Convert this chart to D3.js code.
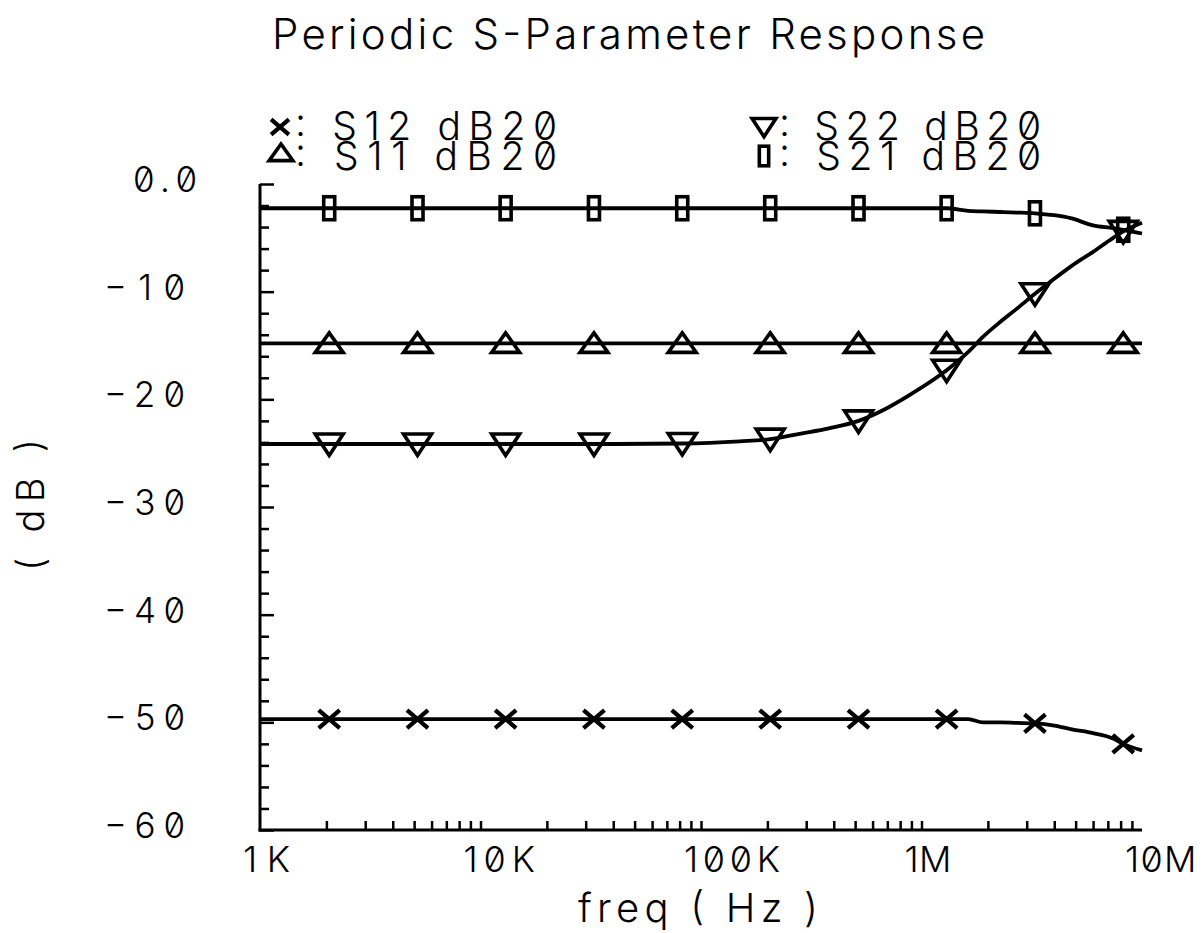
<!DOCTYPE html>
<html>
<head>
<meta charset="utf-8">
<script src="https://cdn.jsdelivr.net/npm/d3@7"></script>
<style>
  html, body { margin: 0; padding: 0; background: #fff; }
  svg text { font-family: "Inter", "DejaVu Sans", sans-serif; font-weight: 300; font-feature-settings: "zero" 1; fill: #000; }
</style>
</head>
<body>
<svg id="chart" width="1204" height="933"></svg>
<script>
// ---------------- data ----------------
const freq = [1e3, 2.06e3, 5.18e3, 1.30e4, 3.27e4, 8.22e4, 1.50e5, 2.06e5, 2.80e5, 3.80e5,
              5.18e5, 7.0e5, 9.5e5, 1.30e6, 1.63e6, 1.90e6, 2.28e6, 2.70e6, 3.27e6, 4.0e6,
              4.8e6, 6.0e6, 7.4e6, 8.22e6, 1.0e7];
const s12 = [-49.7, -49.7, -49.7, -49.7, -49.7, -49.7, -49.7, -49.7, -49.7, -49.7,
             -49.7, -49.7, -49.7, -49.7, -49.7, -50.0, -50.0, -50.05, -50.1, -50.3,
             -50.65, -51.0, -51.5, -52.0, -52.6];
const s11 = [-14.8, -14.8, -14.8, -14.8, -14.8, -14.8, -14.8, -14.8, -14.8, -14.8,
             -14.8, -14.8, -14.8, -14.8, -14.8, -14.8, -14.8, -14.8, -14.8, -14.8,
             -14.8, -14.8, -14.8, -14.8, -14.8];
const s22 = [-24.15, -24.15, -24.15, -24.15, -24.15, -24.1, -23.9, -23.7, -23.2, -22.7,
             -22.0, -20.8, -19.2, -17.3, -15.6, -14.2, -12.8, -11.6, -10.2, -8.8,
             -7.6, -6.3, -5.0, -4.4, -3.6];
const s21 = [-2.25, -2.25, -2.25, -2.25, -2.25, -2.25, -2.25, -2.25, -2.25, -2.25,
             -2.25, -2.25, -2.25, -2.25, -2.5, -2.55, -2.6, -2.65, -2.72, -2.9,
             -3.2, -3.85, -4.1, -4.25, -4.6];
const markerFreq = [2.06e3, 5.18e3, 1.30e4, 3.27e4, 8.22e4, 2.06e5, 5.18e5, 1.30e6, 3.27e6, 8.22e6];

const seriesNames = ["S12 dB20", "S11 dB20", "S22 dB20", "S21 dB20"];
const seriesSymbols = ["x", "up", "down", "rect"];
const seriesValues = [s12, s11, s22, s21];

const yTickValues = [0, -10, -20, -30, -40, -50, -60];
const yTickLabels = ["0.0", "\u221210", "\u221220", "\u221230", "\u221240", "\u221250", "\u221260"];
const xTickValues = [1e3, 1e4, 1e5, 1e6, 1e7];
const xTickLabels = ["1K", "10K", "100K", "1M", "10M"];

const titleText = "Periodic S-Parameter Response";
const xLabel = "freq ( Hz )";
const yLabel = "( dB )";

// ---------------- drawing ----------------
const svg = d3.select("#chart");
const x = d3.scaleLog().domain([1e3, 1e7]).range([260, 1142]);
const y = d3.scaleLinear().domain([-60, 0]).range([830, 184]);

// title
svg.append("text").attr("x", 272).attr("y", 49)
  .attr("textLength", 713).attr("lengthAdjust", "spacing")
  .style("font-size", "42px").text(titleText);

// y ticks
const yMinor = d3.range(0, -61, -2).filter(v => v % 10 !== 0);
const gy1 = svg.append("g").attr("transform", "translate(260,0)")
  .call(d3.axisLeft(y).tickValues(yMinor).tickSizeInner(-9).tickSizeOuter(0).tickFormat(""));
const gy2 = svg.append("g").attr("transform", "translate(260,0)")
  .call(d3.axisLeft(y).tickValues(yTickValues).tickSizeInner(-14).tickSizeOuter(0).tickFormat(""));
[gy1, gy2].forEach(g => {
  g.select(".domain").remove();
  g.selectAll(".tick line").attr("stroke", "#000").attr("stroke-width", 2.5);
});
// y tick labels
svg.append("g").selectAll("text").data(yTickValues).join("text")
  .attr("x", d => d === 0 ? 197 : 185)
  .attr("y", d => y(d) + 8)
  .attr("text-anchor", "end")
  .attr("textLength", (d, i) => d === 0 ? 64 : 81)
  .attr("lengthAdjust", "spacing")
  .style("font-size", "35px")
  .text((d, i) => yTickLabels[i]);

// x ticks
const xMinor = [];
[1e3, 1e4, 1e5, 1e6].forEach(dec => { for (let k = 2; k <= 10; k++) if (dec * k < 1e7) xMinor.push(dec * k); });
const gx1 = svg.append("g").attr("transform", "translate(0,830)")
  .call(d3.axisBottom(x).tickValues(xMinor).tickSizeInner(-9).tickSizeOuter(0).tickFormat(""));
gx1.select(".domain").remove();
gx1.selectAll(".tick line").attr("stroke", "#000").attr("stroke-width", 2.5);
// x tick labels
svg.append("g").selectAll("text").data(xTickValues).join("text")
  .attr("x", d => x(d) - 17)
  .attr("y", 872)
  .attr("textLength", (d, i) => xTickLabels[i].length * 24.5 - 2)
  .attr("lengthAdjust", "spacing")
  .style("font-size", "36px")
  .text((d, i) => xTickLabels[i]);

// axis lines
svg.append("line").attr("x1", 260).attr("x2", 260).attr("y1", y(0)).attr("y2", y(-60) + 1.5)
  .attr("stroke", "#000").attr("stroke-width", 3);
svg.append("line").attr("x1", 258.5).attr("x2", x(1e7)).attr("y1", y(-60)).attr("y2", y(-60))
  .attr("stroke", "#000").attr("stroke-width", 3);

// axis labels
svg.append("text").attr("x", 578).attr("y", 922)
  .attr("textLength", 240).attr("lengthAdjust", "spacing")
  .style("font-size", "40px").text(xLabel);
svg.append("text").attr("transform", "translate(44,505) rotate(-90)").attr("x", -66)
  .attr("textLength", 132).attr("lengthAdjust", "spacing")
  .style("font-size", "38px").text(yLabel);

// marker drawing
function drawMarker(g, type, cx, cy, s) {
  s = s || 1;
  if (type === "x") {
    g.append("path").attr("d", `M${cx - 10.5 * s},${cy - 9 * s}L${cx + 10.5 * s},${cy + 9 * s}M${cx - 10.5 * s},${cy + 9 * s}L${cx + 10.5 * s},${cy - 9 * s}`)
      .attr("stroke", "#000").attr("stroke-width", 4.2).attr("fill", "none");
  } else if (type === "up") {
    g.append("path").attr("d", `M${cx},${cy - 10.5 * s}L${cx + 14 * s},${cy + 9 * s}L${cx - 14 * s},${cy + 9 * s}Z`)
      .attr("stroke", "#000").attr("stroke-width", 3.6).attr("fill", "none");
  } else if (type === "down") {
    g.append("path").attr("d", `M${cx - 14 * s},${cy - 10 * s}L${cx + 14 * s},${cy - 10 * s}L${cx},${cy + 11.5 * s}Z`)
      .attr("stroke", "#000").attr("stroke-width", 3.6).attr("fill", "none");
  } else if (type === "rect") {
    g.append("rect").attr("x", cx - 5.5 * s).attr("y", cy - 11.5 * s).attr("width", 11 * s).attr("height", 23 * s)
      .attr("stroke", "#000").attr("stroke-width", 3.6).attr("fill", "none");
  }
}

// series lines + markers
const plot = svg.append("g");
const line = d3.line().x(d => x(d[0])).y(d => y(d[1])).curve(d3.curveMonotoneX);
seriesValues.forEach((vals, si) => {
  const pts = freq.map((f, i) => [f, vals[i]]);
  plot.append("path").attr("d", line(pts)).attr("fill", "none").attr("stroke", "#000").attr("stroke-width", 3.8);
  pts.filter(p => markerFreq.includes(p[0])).forEach(p => drawMarker(plot, seriesSymbols[si], x(p[0]), y(p[1])));
});

// legend
const legendPos = [[280, 127, 295, 140], [281, 153, 295, 170], [764, 127, 779, 140], [764, 156, 779, 170]];
seriesNames.forEach((name, i) => {
  const [sx, sy, tx, ty] = legendPos[i];
  drawMarker(svg, seriesSymbols[i], sx, sy, 0.85);
  svg.append("text").attr("x", tx).attr("y", ty)
    .attr("textLength", 262).attr("lengthAdjust", "spacing")
    .style("font-size", "39px").text(": " + name);
});
</script>
</body>
</html>
